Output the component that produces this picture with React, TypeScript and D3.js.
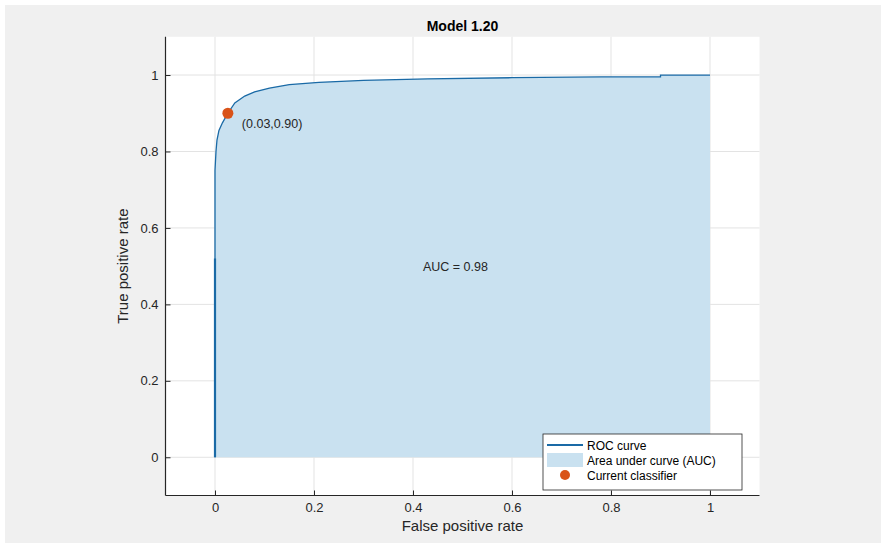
import { useEffect, useRef } from "react"
import * as d3 from "d3"

// ROC points (false positive rate, true positive rate)
const fpr = [0, 0, 0, 0.002, 0.004, 0.008, 0.015, 0.026, 0.04, 0.06, 0.08, 0.11, 0.15, 0.21, 0.3, 0.43, 0.6, 0.78, 0.9, 0.9, 1]
const tpr = [0, 0.52, 0.75, 0.8, 0.83, 0.855, 0.875, 0.9, 0.927, 0.945, 0.956, 0.966, 0.975, 0.981, 0.986, 0.99, 0.993, 0.995, 0.995, 1, 1]

const xTicks = [0, 0.2, 0.4, 0.6, 0.8, 1]
const yTicks = [0, 0.2, 0.4, 0.6, 0.8, 1]

const current = { fpr: 0.026, tpr: 0.9, label: "(0.03,0.90)" }
const auc = 0.98
const legendItems = ["ROC curve", "Area under curve (AUC)", "Current classifier"]

const FONT = "'Liberation Sans', Arial, Helvetica, sans-serif"
const LINE = "#1a6aa6"
const FILL = "#c9e1f0"
const MARK = "#d95319"
const AX = "#262626"

export default function App() {
  const svgRef = useRef<SVGSVGElement>(null)

  useEffect(() => {
    if (!svgRef.current) return
    const svg = d3.select(svgRef.current)
    svg.selectAll("*").remove()

    const W = 886
    const H = 548
    svg.append("rect").attr("width", W).attr("height", H).attr("fill", "#ffffff")
    svg.append("rect").attr("x", 5).attr("y", 5).attr("width", W - 10).attr("height", H - 10).attr("fill", "#f0f0f0")

    const x = d3.scaleLinear().domain([-0.1, 1.1]).range([165.5, 759.5])
    const y = d3.scaleLinear().domain([-0.1, 1.1]).range([495.5, 36.8])

    const g = svg.append("g")

    // plot background
    g.append("rect")
      .attr("x", x(-0.1))
      .attr("y", y(1.1))
      .attr("width", x(1.1) - x(-0.1))
      .attr("height", y(-0.1) - y(1.1))
      .attr("fill", "#ffffff")

    // grid
    g.selectAll(".gx")
      .data(xTicks)
      .join("line")
      .attr("x1", (d) => x(d))
      .attr("x2", (d) => x(d))
      .attr("y1", y(1.1))
      .attr("y2", y(-0.1))
      .attr("stroke", "#e3e3e3")
      .attr("stroke-width", 1)
    g.selectAll(".gy")
      .data(yTicks)
      .join("line")
      .attr("x1", x(-0.1))
      .attr("x2", x(1.1))
      .attr("y1", (d) => y(d))
      .attr("y2", (d) => y(d))
      .attr("stroke", "#e3e3e3")
      .attr("stroke-width", 1)

    const pts = fpr.map((f, i) => [f, tpr[i]] as [number, number])

    // area under curve
    const area = d3
      .area<[number, number]>()
      .x((d) => x(d[0]))
      .y0(y(0))
      .y1((d) => y(d[1]))
    g.append("path").datum(pts).attr("fill", FILL).attr("d", area)

    // roc curve
    const line = d3
      .line<[number, number]>()
      .x((d) => x(d[0]))
      .y((d) => y(d[1]))
    g.append("path").datum(pts).attr("fill", "none").attr("stroke", LINE).attr("stroke-width", 1.3).attr("d", line)
    // the lower vertical part looks heavier (many overlapping points)
    g.append("path")
      .datum(pts.slice(0, 2))
      .attr("fill", "none")
      .attr("stroke", LINE)
      .attr("stroke-width", 2.2)
      .attr("d", line)

    // current classifier
    g.append("circle").attr("cx", x(current.fpr)).attr("cy", y(current.tpr)).attr("r", 5.5).attr("fill", MARK)
    g.append("text")
      .attr("x", x(current.fpr) + 14)
      .attr("y", y(current.tpr) + 15)
      .attr("font-family", FONT)
      .attr("font-size", 12.5)
      .attr("fill", AX)
      .text(current.label)

    g.append("text")
      .attr("x", x(0.42))
      .attr("y", y(0.5) + 5)
      .attr("font-family", FONT)
      .attr("font-size", 12.5)
      .attr("fill", AX)
      .text(`AUC = ${auc.toFixed(2)}`)

    // axes (left and bottom only, ticks pointing in)
    const xAxis = g.append("g").attr("transform", `translate(0,${y(-0.1)})`)
    xAxis.call(d3.axisBottom(x).tickValues(xTicks).tickSize(-5).tickPadding(7).tickFormat((d) => d3.format("")(d as number)))
    const yAxis = g.append("g").attr("transform", `translate(${x(-0.1)},0)`)
    yAxis.call(d3.axisLeft(y).tickValues(yTicks).tickSize(-5).tickPadding(7).tickFormat((d) => d3.format("")(d as number)))
    for (const ax of [xAxis, yAxis]) {
      ax.select(".domain").remove()
      ax.selectAll("line").attr("stroke", AX)
      ax.selectAll("text").attr("font-family", FONT).attr("font-size", 13).attr("fill", AX)
    }
    g.append("line")
      .attr("x1", x(-0.1))
      .attr("x2", x(1.1))
      .attr("y1", y(-0.1))
      .attr("y2", y(-0.1))
      .attr("stroke", AX)
      .attr("stroke-width", 1.2)
    g.append("line")
      .attr("x1", x(-0.1))
      .attr("x2", x(-0.1))
      .attr("y1", y(-0.1))
      .attr("y2", y(1.1))
      .attr("stroke", AX)
      .attr("stroke-width", 1.2)

    // labels
    svg.append("text")
      .attr("x", (x(-0.1) + x(1.1)) / 2)
      .attr("y", 31)
      .attr("text-anchor", "middle")
      .attr("font-family", FONT)
      .attr("font-weight", "bold")
      .attr("font-size", 14)
      .attr("fill", "#000")
      .text("Model 1.20")
    svg.append("text")
      .attr("x", (x(-0.1) + x(1.1)) / 2)
      .attr("y", 531)
      .attr("text-anchor", "middle")
      .attr("font-family", FONT)
      .attr("font-size", 15)
      .attr("fill", AX)
      .text("False positive rate")
    svg.append("text")
      .attr("transform", `translate(128,${(y(-0.1) + y(1.1)) / 2}) rotate(-90)`)
      .attr("text-anchor", "middle")
      .attr("font-family", FONT)
      .attr("font-size", 15)
      .attr("fill", AX)
      .text("True positive rate")

    // legend
    const lg = svg.append("g").attr("transform", "translate(543,434)")
    lg.append("rect").attr("width", 199).attr("height", 56).attr("fill", "#fff").attr("stroke", AX).attr("stroke-width", 0.8)
    const rowY = [11, 26, 41]
    lg.append("line").attr("x1", 4).attr("x2", 40).attr("y1", rowY[0]).attr("y2", rowY[0]).attr("stroke", LINE).attr("stroke-width", 2.2)
    lg.append("rect").attr("x", 4).attr("y", rowY[1] - 7).attr("width", 36).attr("height", 14).attr("fill", FILL)
    lg.append("circle").attr("cx", 22).attr("cy", rowY[2]).attr("r", 5).attr("fill", MARK)
    lg.selectAll(".lt")
      .data(legendItems)
      .join("text")
      .attr("x", 44)
      .attr("y", (_, i) => rowY[i] + 4.5)
      .attr("font-family", FONT)
      .attr("font-size", 12)
      .attr("fill", "#000")
      .text((d) => d)
  }, [])

  return <svg ref={svgRef} width={886} height={548} style={{ position: "absolute", left: 0, top: 0 }} />
}
